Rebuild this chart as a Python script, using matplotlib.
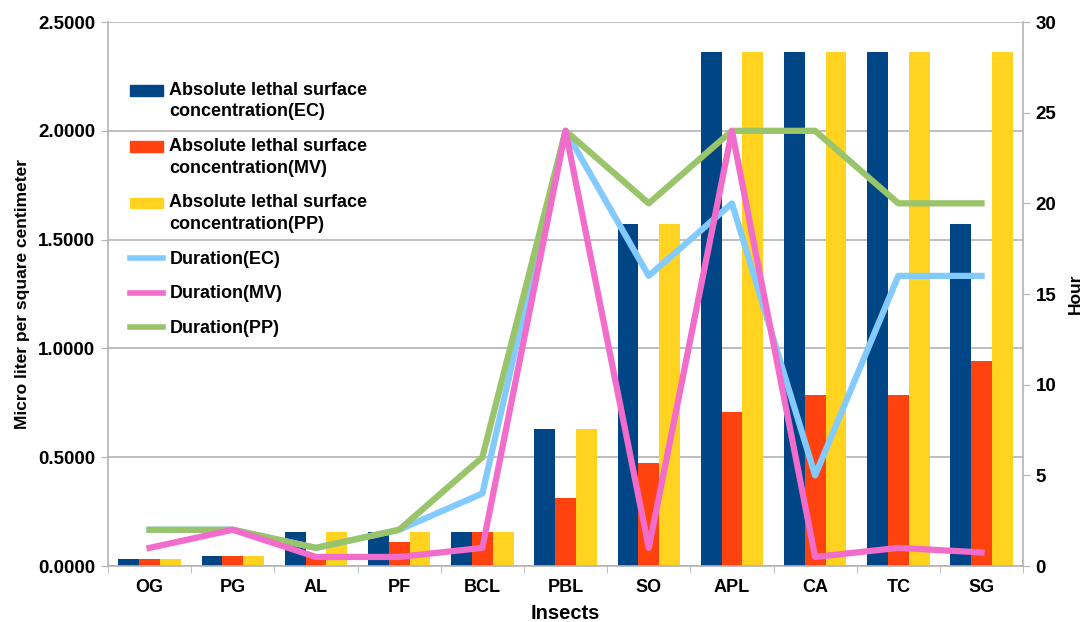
import numpy as np
import matplotlib.pyplot as plt
from matplotlib.patches import Patch, Rectangle
from matplotlib.lines import Line2D
from matplotlib.legend_handler import HandlerPatch

plt.rcParams['font.family'] = ['Liberation Sans', 'DejaVu Sans']
plt.rcParams['font.weight'] = 'bold'

insects = ["OG", "PG", "AL", "PF", "BCL", "PBL", "SO", "APL", "CA", "TC", "SG"]

# micro liter per square centimeter
conc_ec = [0.0315, 0.0473, 0.158, 0.158, 0.158, 0.63, 1.572, 2.36, 2.36, 2.36, 1.572]
conc_mv = [0.0315, 0.0473, 0.0473, 0.11, 0.158, 0.314, 0.472, 0.706, 0.786, 0.786, 0.943]
conc_pp = [0.0315, 0.0473, 0.158, 0.158, 0.158, 0.63, 1.572, 2.36, 2.36, 2.36, 2.36]

# hours
dur_ec = [2, 2, 1, 2, 4, 24, 16, 20, 5, 16, 16]
dur_mv = [1, 2, 0.5, 0.5, 1, 24, 1, 24, 0.5, 1, 0.75]
dur_pp = [2, 2, 1, 2, 6, 24, 20, 24, 24, 20, 20]

c_ec = "#004586"
c_mv = "#ff420e"
c_pp = "#ffd320"
c_dec = "#83caff"
c_dmv = "#f26ccb"
c_dpp = "#99c46a"
grid_c = "#b3b3b3"

fig = plt.figure(figsize=(10.83, 6.22), dpi=100)
ax = fig.add_axes([0.0997, 0.09, 0.845, 0.8746])

x = np.arange(len(insects))
w = 0.25
ax.bar(x - w, conc_ec, w, color=c_ec, zorder=2)
ax.bar(x, conc_mv, w, color=c_mv, zorder=2)
ax.bar(x + w, conc_pp, w, color=c_pp, zorder=2)

ax.set_xlim(-0.5, len(insects) - 0.5)
ax.set_ylim(0, 2.5)
ax.set_yticks(np.arange(0, 2.51, 0.5))
ax.set_yticklabels([f"{v:.4f}" for v in np.arange(0, 2.51, 0.5)])
ax.yaxis.grid(True, color=grid_c, lw=1.2, zorder=0)
ax.set_xticks(np.arange(-0.5, len(insects), 1), minor=True)
ax.set_xticks(x)
ax.set_xticklabels(insects)
ax.tick_params(axis='x', which='major', length=0, pad=9, labelsize=13)
ax.tick_params(axis='x', which='minor', length=5, color=grid_c)
ax.tick_params(axis='y', length=5, color=grid_c, labelsize=13.5, pad=4)
for s in ["top", "right"]:
    ax.spines[s].set_visible(False)
for s in ["left", "bottom"]:
    ax.spines[s].set_color(grid_c)
    ax.spines[s].set_linewidth(1.2)

ax.set_xlabel("Insects", fontsize=14.5, fontweight='bold', labelpad=6)
ax.set_ylabel("Micro liter per square centimeter", fontsize=12.5, fontweight='bold', labelpad=6)

ax2 = ax.twinx()
ax2.plot(x, dur_ec, color=c_dec, lw=4.5, zorder=3)
ax2.plot(x, dur_pp, color=c_dpp, lw=4.5, zorder=3)
ax2.plot(x, dur_mv, color=c_dmv, lw=4.5, zorder=4)
ax2.set_ylim(0, 30)
ax2.set_yticks(range(0, 31, 5))
ax2.tick_params(axis='y', length=5, color=grid_c, labelsize=13.5, pad=4)
for s in ["top", "left", "bottom"]:
    ax2.spines[s].set_visible(False)
ax2.spines["right"].set_color(grid_c)
ax2.spines["right"].set_linewidth(1.2)
ax2.set_ylabel("Hour", fontsize=12.5, fontweight='bold', labelpad=8)


def top_patch(legend, orig_handle, xdescent, ydescent, width, height, fontsize):
    # put the swatch next to the first text line, not the middle
    return Rectangle((-xdescent, -ydescent + 0.6 * fontsize), width, height)


handles = [
    Patch(color=c_ec, label="Absolute lethal surface\nconcentration(EC)"),
    Patch(color=c_mv, label="Absolute lethal surface\nconcentration(MV)"),
    Patch(color=c_pp, label="Absolute lethal surface\nconcentration(PP)"),
    Line2D([], [], color=c_dec, lw=4, label="Duration(EC)"),
    Line2D([], [], color=c_dmv, lw=4, label="Duration(MV)"),
    Line2D([], [], color=c_dpp, lw=4, label="Duration(PP)"),
]
leg = ax2.legend(handles=handles, loc="upper left", bbox_to_anchor=(0.113, 0.88),
                 bbox_transform=fig.transFigure, frameon=False, fontsize=13,
                 handlelength=1.85, handleheight=0.5, handletextpad=0.35,
                 labelspacing=0.98, borderaxespad=0, borderpad=0.4,
                 handler_map={Patch: HandlerPatch(patch_func=top_patch)})
for t in leg.get_texts():
    t.set_fontweight('bold')
    t.set_linespacing(1.35)

fig.savefig("out.png", dpi=100)
